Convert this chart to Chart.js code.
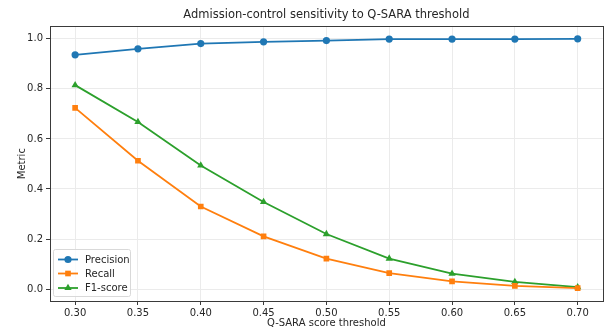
<!DOCTYPE html>
<html>
<head>
<meta charset="utf-8">
<script src="https://cdn.jsdelivr.net/npm/chart.js@4"></script>
<style>
  html, body { margin: 0; padding: 0; background: #ffffff; }
  #wrap { width: 607px; height: 329px; }
</style>
</head>
<body>
<div id="wrap"><canvas id="c" width="607" height="329"></canvas></div>
<script>
const thresholds = [0.30, 0.35, 0.40, 0.45, 0.50, 0.55, 0.60, 0.65, 0.70];
const precision  = [0.936, 0.960, 0.981, 0.988, 0.993, 0.999, 0.999, 0.999, 1.000];
const recall     = [0.724, 0.513, 0.330, 0.211, 0.122, 0.064, 0.031, 0.013, 0.004];
const f1score    = [0.815, 0.668, 0.494, 0.348, 0.220, 0.122, 0.062, 0.029, 0.008];
const yTicks     = [0.0, 0.2, 0.4, 0.6, 0.8, 1.0];

const FONT = "'DejaVu Sans', sans-serif";
const TXT = '#262626';

function pts(arr) { return thresholds.map((x, i) => ({ x: x, y: arr[i] })); }

const frameAndLegend = {
  id: 'frameAndLegend',
  afterDatasetsDraw(chart) {
    const ctx = chart.ctx;
    const a = chart.chartArea;
    ctx.save();
    // legend
    const lx = 53.5, ly = 249.5, lw = 77, lh = 47;
    ctx.fillStyle = 'rgba(255,255,255,0.8)';
    ctx.strokeStyle = '#d9d9d9';
    ctx.lineWidth = 1;
    ctx.beginPath();
    if (ctx.roundRect) ctx.roundRect(lx, ly, lw, lh, 2); else ctx.rect(lx, ly, lw, lh);
    ctx.fill();
    ctx.stroke();
    const rows = [259.5, 273.5, 288];
    chart.data.datasets.forEach((ds, i) => {
      const y = rows[i];
      ctx.strokeStyle = ds.borderColor;
      ctx.lineWidth = ds.borderWidth;
      ctx.beginPath();
      ctx.moveTo(58, y);
      ctx.lineTo(78, y);
      ctx.stroke();
      ctx.fillStyle = ds.pointBackgroundColor;
      Chart.helpers.drawPoint(ctx, { pointStyle: ds.pointStyle, radius: ds.pointRadius, borderWidth: 0 }, 68, y);
      ctx.fillStyle = TXT;
      ctx.font = "10px " + FONT;
      ctx.textAlign = 'left';
      ctx.textBaseline = 'middle';
      ctx.fillText(ds.label, 85, y + 0.5);
    });
    // frame
    ctx.strokeStyle = '#3a3a3a';
    ctx.lineWidth = 1;
    ctx.strokeRect(Math.round(a.left) + 0.5, Math.round(a.top) + 0.5, Math.round(a.right - a.left), Math.round(a.bottom - a.top));
    ctx.restore();
  }
};

new Chart(document.getElementById('c'), {
  type: 'line',
  data: {
    datasets: [
      { label: 'Precision', data: pts(precision), borderColor: '#1f77b4', backgroundColor: '#1f77b4',
        pointBackgroundColor: '#1f77b4', pointBorderColor: '#1f77b4', pointStyle: 'circle', pointRadius: 3.6, borderWidth: 1.8, pointBorderWidth: 0 },
      { label: 'Recall', data: pts(recall), borderColor: '#ff7f0e', backgroundColor: '#ff7f0e',
        pointBackgroundColor: '#ff7f0e', pointBorderColor: '#ff7f0e', pointStyle: 'rect', pointRadius: 4.0, borderWidth: 1.8, pointBorderWidth: 0 },
      { label: 'F1-score', data: pts(f1score), borderColor: '#2ca02c', backgroundColor: '#2ca02c',
        pointBackgroundColor: '#2ca02c', pointBorderColor: '#2ca02c', pointStyle: 'triangle', pointRadius: 4.2, borderWidth: 1.8, pointBorderWidth: 0 }
    ]
  },
  options: {
    responsive: false,
    animation: false,
    devicePixelRatio: 1,
    layout: { padding: { left: 0, right: 3, top: 0, bottom: 0 } },
    plugins: {
      legend: { display: false },
      tooltip: { enabled: false },
      title: {
        display: true,
        fullSize: false,
        text: 'Admission-control sensitivity to Q-SARA threshold',
        color: TXT,
        font: { family: FONT, size: 11.5, weight: 'normal', lineHeight: 1.2 },
        padding: { top: 8.5, bottom: 4 }
      }
    },
    scales: {
      x: {
        type: 'linear',
        min: 0.28, max: 0.72,
        afterBuildTicks: s => { s.ticks = thresholds.map(v => ({ value: v })); },
        afterFit: s => { s.height = 28; },
        ticks: { color: TXT, font: { family: FONT, size: 10 }, padding: 2, maxRotation: 0, autoSkip: false,
                 callback: v => Number(v).toFixed(2) },
        grid: { color: '#ebebeb', lineWidth: 1, tickColor: '#3a3a3a', tickLength: 4, drawTicks: true },
        border: { display: false },
        title: { display: true, text: 'Q-SARA score threshold', color: TXT,
                 font: { family: FONT, size: 10, lineHeight: 1.2 }, padding: { top: 0, bottom: 0 } }
      },
      y: {
        type: 'linear',
        min: -0.0475, max: 1.05,
        afterBuildTicks: s => { s.ticks = yTicks.map(v => ({ value: v })); },
        afterFit: s => { s.width = 50; },
        ticks: { color: TXT, font: { family: FONT, size: 10 }, padding: 3, autoSkip: false,
                 callback: v => Number(v).toFixed(1) },
        grid: { color: '#ebebeb', lineWidth: 1, tickColor: '#3a3a3a', tickLength: 4, drawTicks: true },
        border: { display: false },
        title: { display: true, text: 'Metric', color: TXT,
                 font: { family: FONT, size: 10, lineHeight: 1.2 }, padding: { top: 16, bottom: 0 } }
      }
    }
  },
  plugins: [frameAndLegend]
});
</script>
</body>
</html>
